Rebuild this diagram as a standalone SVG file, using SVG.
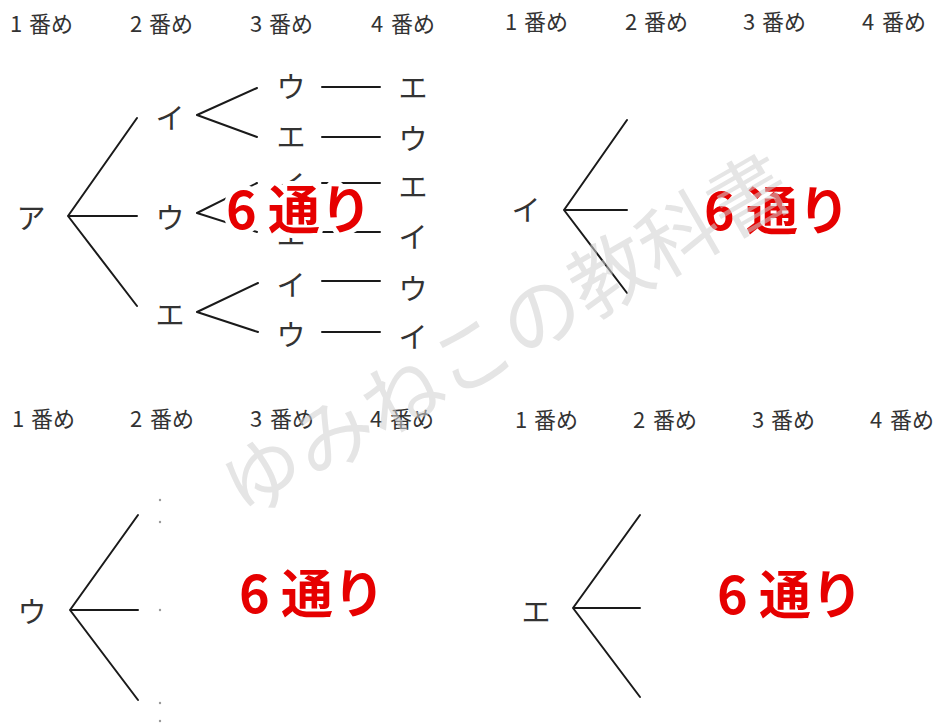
<svg xmlns="http://www.w3.org/2000/svg" width="943" height="724" viewBox="0 0 943 724">
<style>
.h{font-family:"Noto Sans CJK JP","Noto Sans",sans-serif;font-size:22px;fill:#333}
.k{font-family:"Noto Sans CJK JP","Noto Sans",sans-serif;font-size:29px;fill:#333;text-anchor:middle;dominant-baseline:central}
.r{font-family:"Noto Sans CJK JP","Noto Sans",sans-serif;font-size:52px;font-weight:bold;fill:#e60000;dominant-baseline:central;stroke:#fff;stroke-width:10px;paint-order:stroke;stroke-linejoin:round}
.l{stroke:#1a1a1a;stroke-width:2;fill:none;stroke-linecap:round}
.wm{font-family:"Noto Sans CJK JP",sans-serif;font-size:80px;fill:#d0d0d0;opacity:0.55;text-anchor:middle;dominant-baseline:central}
</style>
<rect width="943" height="724" fill="#fff"/>
<g id="headers">
<text class="h" x="10" y="32">1<tspan x="29">番め</tspan></text>
<text class="h" x="130" y="32">2<tspan x="149">番め</tspan></text>
<text class="h" x="250" y="32">3<tspan x="269">番め</tspan></text>
<text class="h" x="371" y="32">4<tspan x="391">番め</tspan></text>
<text class="h" x="505" y="30">1<tspan x="524">番め</tspan></text>
<text class="h" x="625" y="30">2<tspan x="644">番め</tspan></text>
<text class="h" x="743" y="30">3<tspan x="762">番め</tspan></text>
<text class="h" x="862" y="30">4<tspan x="882">番め</tspan></text>
<text class="h" x="12" y="427">1<tspan x="31">番め</tspan></text>
<text class="h" x="130" y="427">2<tspan x="150">番め</tspan></text>
<text class="h" x="250" y="427">3<tspan x="270">番め</tspan></text>
<text class="h" x="370" y="427">4<tspan x="390">番め</tspan></text>
<text class="h" x="515" y="428">1<tspan x="534">番め</tspan></text>
<text class="h" x="633" y="428">2<tspan x="653">番め</tspan></text>
<text class="h" x="752" y="428">3<tspan x="771">番め</tspan></text>
<text class="h" x="870" y="428">4<tspan x="890">番め</tspan></text>
</g>
<g id="connectors">
<path class="l" d="M68,216 L137,118 M68,216 L137,216 M68,216 L137,306"/>
<path class="l" d="M197,115 L257,88 M197,115 L257,137"/>
<path class="l" d="M197,213 L257,183 M197,213 L257,232"/>
<path class="l" d="M197,312 L258,283 M197,312 L258,332"/>
<path class="l" d="M322,87 L380,87 M322,137 L380,137 M322,183 L380,183 M322,232 L380,232 M322,281 L380,281 M322,332 L380,332"/>
<path class="l" d="M564,210 L627,120 M564,210 L627,210 M564,210 L627,293"/>
<path class="l" d="M70,610 L138,515 M70,610 L138,610 M70,610 L138,700"/>
<path class="l" d="M573,608 L640,515 M573,608 L640,608 M573,608 L640,697"/>
</g>
<g id="tree-a">
<text class="k" x="31" y="216">ア</text>
<text class="k" x="170" y="116">イ</text>
<text class="k" x="170" y="216">ウ</text>
<text class="k" x="170" y="313">エ</text>
<text class="k" x="291" y="85">ウ</text>
<text class="k" x="291" y="135">エ</text>
<text class="k" x="291" y="183">イ</text>
<text class="k" x="291" y="233">エ</text>
<text class="k" x="291" y="283">イ</text>
<text class="k" x="291" y="333">ウ</text>
<text class="k" x="413" y="86">エ</text>
<text class="k" x="413" y="137">ウ</text>
<text class="k" x="413" y="185">エ</text>
<text class="k" x="413" y="235">イ</text>
<text class="k" x="413" y="287">ウ</text>
<text class="k" x="413" y="335">イ</text>
<text class="r" x="226" y="206">6<tspan x="268">通</tspan><tspan x="320">り</tspan></text>
</g>
<g id="tree-i">
<text class="k" x="526" y="208">イ</text>
<text class="r" x="704" y="207">6<tspan x="746">通</tspan><tspan x="798">り</tspan></text>
</g>
<g id="tree-u">
<text class="k" x="32" y="610">ウ</text>
<g fill="#999">
<circle cx="160" cy="500" r="1.2"/><circle cx="160" cy="522" r="1.2"/><circle cx="160" cy="610" r="1.2"/><circle cx="160" cy="703" r="1.2"/><circle cx="160" cy="721" r="1.2"/>
</g>
<text class="r" x="239" y="590">6<tspan x="281">通</tspan><tspan x="333">り</tspan></text>
</g>
<g id="tree-e">
<text class="k" x="536" y="610">エ</text>
<text class="r" x="717" y="591">6<tspan x="759">通</tspan><tspan x="811">り</tspan></text>
</g>
<text class="wm" x="503" y="330" transform="rotate(-30 503 330)">ゆみねこの教科書</text>
</svg>
